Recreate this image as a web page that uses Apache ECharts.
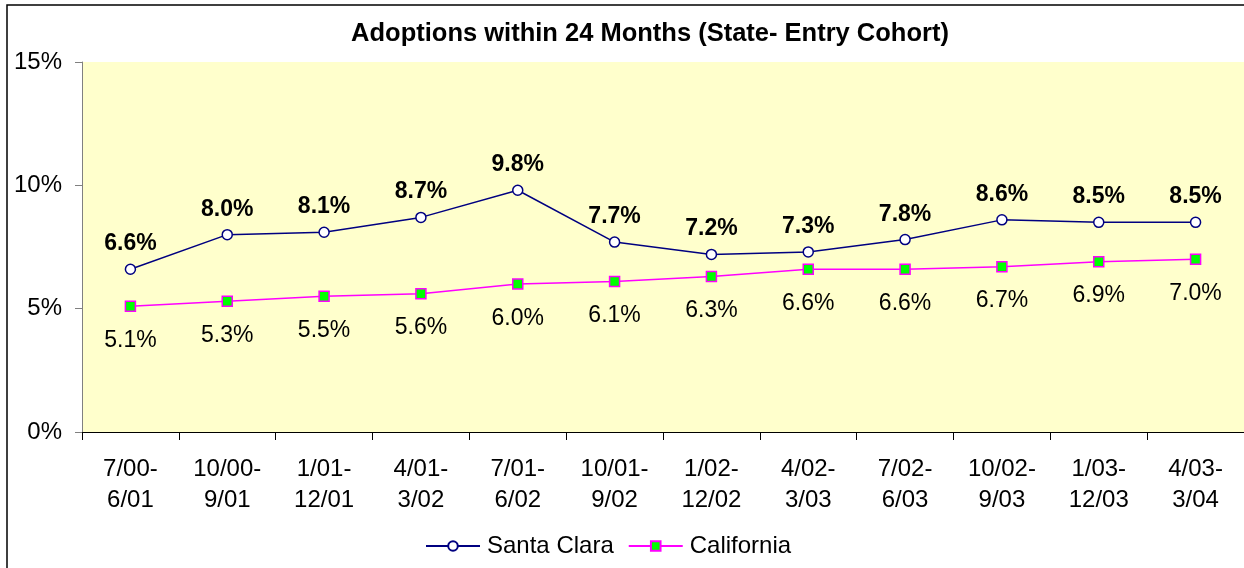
<!DOCTYPE html>
<html>
<head>
<meta charset="utf-8">
<script src="https://cdn.jsdelivr.net/npm/echarts@6/dist/echarts.min.js"></script>
<style>
  html, body { margin: 0; padding: 0; background: #fff; }
  #chart { width: 1244px; height: 568px; }
</style>
</head>
<body>
<div id="chart"></div>
<script>
// cohort periods (two lines each)
const periods = ['7/00-\n6/01', '10/00-\n9/01', '1/01-\n12/01', '4/01-\n3/02', '7/01-\n6/02', '10/01-\n9/02',
    '1/02-\n12/02', '4/02-\n3/03', '7/02-\n6/03', '10/02-\n9/03', '1/03-\n12/03', '4/03-\n3/04'];
const santaClara = [6.6, 8.0, 8.1, 8.7, 9.8, 7.7, 7.2, 7.3, 7.8, 8.6, 8.5, 8.5];
const california = [5.1, 5.3, 5.5, 5.6, 6.0, 6.1, 6.3, 6.6, 6.6, 6.7, 6.9, 7.0];
const yTicks = [0, 5, 10, 15];

const font = '"Liberation Sans", Arial, sans-serif';
const myChart = echarts.init(document.getElementById('chart'));

const option = {
    animation: false,
    textStyle: { fontFamily: font },
    title: {
        text: 'Adoptions within 24 Months (State- Entry Cohort)',
        left: 645, top: 16, textAlign: 'center',
        textStyle: { fontFamily: font, fontSize: 25.5, fontWeight: 'bold', color: '#000' }
    },
    graphic: [{
        type: 'rect',
        shape: { x: 7, y: 5, width: 1260, height: 600 },
        style: { fill: 'none', stroke: '#000', lineWidth: 1.5 }
    }],
    grid: { left: 82, right: -4, top: 62, bottom: 136, show: true, backgroundColor: '#FFFFCC', borderWidth: 0 },
    legend: {
        top: 534, left: 425, padding: 0,
        itemWidth: 54, itemHeight: 12, itemGap: 14,
        textStyle: { fontFamily: font, fontSize: 24, color: '#000', padding: [0, 0, 0, 2] },
        data: ['Santa Clara', 'California']
    },
    xAxis: {
        type: 'category',
        data: periods,
        boundaryGap: true,
        axisLine: { lineStyle: { color: '#000', width: 1 } },
        axisTick: { show: true, length: 8, inside: false, lineStyle: { color: '#000' } },
        axisLabel: { fontFamily: font, fontSize: 24, color: '#000', lineHeight: 31, margin: 22, interval: 0 }
    },
    yAxis: {
        type: 'value',
        min: yTicks[0], max: yTicks[yTicks.length - 1], interval: 5,
        axisLine: { show: true, lineStyle: { color: '#808080' } },
        axisTick: { show: true, length: 7, lineStyle: { color: '#808080' } },
        splitLine: { show: false },
        axisLabel: { fontFamily: font, fontSize: 24, color: '#000', margin: 20, formatter: '{value}%' }
    },
    series: [
        {
            name: 'Santa Clara',
            type: 'line',
            data: santaClara,
            symbol: 'circle', symbolSize: 10,
            lineStyle: { color: '#000080', width: 1.5 },
            itemStyle: { color: '#fff', borderColor: '#000080', borderWidth: 1.5 },
            label: {
                show: true, position: 'top', distance: 8,
                formatter: p => p.value.toFixed(1) + '%',
                fontFamily: font, fontSize: 23, fontWeight: 'bold', color: '#000'
            }
        },
        {
            name: 'California',
            type: 'line',
            data: california,
            symbol: 'rect', symbolSize: 10,
            lineStyle: { color: '#FF00FF', width: 1.5 },
            itemStyle: { color: '#00FF00', borderColor: '#FF00FF', borderWidth: 1.5 },
            label: {
                show: true, position: 'bottom', distance: 17,
                formatter: p => p.value.toFixed(1) + '%',
                fontFamily: font, fontSize: 23, color: '#000'
            }
        }
    ]
};

myChart.setOption(option);
</script>
</body>
</html>
